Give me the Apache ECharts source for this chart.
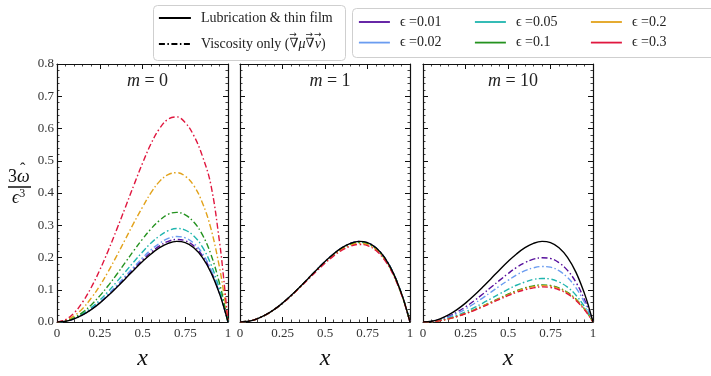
<!DOCTYPE html>
<html>
<head>
<meta charset="utf-8">
<script src="https://cdn.jsdelivr.net/npm/echarts@6.0.0/dist/echarts.min.js"></script>
<style>
  html, body { margin: 0; padding: 0; background: #fff; }
  #chart { width: 711px; height: 376px; }
</style>
</head>
<body>
<div id="chart"></div>
<script>
// Sample positions along x (shared by every curve)
const xs = [0, 0.05, 0.1, 0.15, 0.2, 0.25, 0.3, 0.35, 0.4, 0.45, 0.5,
            0.55, 0.6, 0.65, 0.7, 0.75, 0.8, 0.85, 0.9, 0.95, 0.975, 1];

// Lubrication & thin film solution (same in all panels)
const lubrication = [0, 0.0025, 0.0099, 0.0220, 0.0384, 0.0586, 0.0819, 0.1075, 0.1344, 0.1615, 0.1875,
                     0.2110, 0.2304, 0.2440, 0.2499, 0.2461, 0.2304, 0.2005, 0.1539, 0.0880, 0.0470, 0];

// Viscosity-only model, m = 0
const m0_e001 = [0, 0.0026, 0.0101, 0.0226, 0.0394, 0.0600, 0.0840, 0.1100, 0.1380, 0.1660, 0.1920,
                 0.2160, 0.2360, 0.2500, 0.2560, 0.2520, 0.2360, 0.2060, 0.1580, 0.0900, 0.0481, 0];
const m0_e002 = [0, 0.0027, 0.0105, 0.0233, 0.0407, 0.0620, 0.0868, 0.1140, 0.1425, 0.1710, 0.1990,
                 0.2240, 0.2440, 0.2590, 0.2650, 0.2610, 0.2440, 0.2130, 0.1630, 0.0940, 0.0503, 0];
const m0_e005 = [0, 0.0029, 0.0115, 0.0256, 0.0446, 0.0680, 0.0950, 0.1250, 0.1560, 0.1870, 0.2170,
                 0.2450, 0.2670, 0.2830, 0.2900, 0.2850, 0.2670, 0.2330, 0.1790, 0.1030, 0.0551, 0];
const m0_e01  = [0, 0.0035, 0.0137, 0.0300, 0.0530, 0.0810, 0.1130, 0.1480, 0.1850, 0.2220, 0.2570,
                 0.2890, 0.3150, 0.3340, 0.3400, 0.3320, 0.3100, 0.2710, 0.2100, 0.1210, 0.0647, 0];
const m0_e02  = [0, 0.0050, 0.0190, 0.0420, 0.0740, 0.1120, 0.1570, 0.2060, 0.2570, 0.3080, 0.3560,
                 0.4010, 0.4360, 0.4570, 0.4630, 0.4520, 0.4230, 0.3700, 0.2900, 0.1700, 0.0910, 0];
const m0_e03  = [0, 0.0075, 0.0280, 0.0620, 0.1070, 0.1610, 0.2220, 0.2880, 0.3560, 0.4250, 0.4920,
                 0.5530, 0.6000, 0.6290, 0.6360, 0.6180, 0.5780, 0.5150, 0.4250, 0.2500, 0.1340, 0];

// Viscosity-only model, m = 1
const m1_e001 = [0, 0.0025, 0.0099, 0.0220, 0.0384, 0.0586, 0.0819, 0.1075, 0.1344, 0.1614, 0.1873,
                 0.2107, 0.2300, 0.2436, 0.2495, 0.2457, 0.2300, 0.2002, 0.1537, 0.0879, 0.0470, 0];
const m1_e002 = [0, 0.0025, 0.0099, 0.0220, 0.0384, 0.0586, 0.0818, 0.1074, 0.1342, 0.1613, 0.1871,
                 0.2104, 0.2296, 0.2431, 0.2490, 0.2452, 0.2296, 0.1998, 0.1534, 0.0877, 0.0469, 0];
const m1_e005 = [0, 0.0025, 0.0099, 0.0220, 0.0384, 0.0585, 0.0817, 0.1072, 0.1340, 0.1609, 0.1866,
                 0.2098, 0.2289, 0.2423, 0.2481, 0.2443, 0.2287, 0.1990, 0.1528, 0.0874, 0.0467, 0];
const m1_e01  = [0, 0.0025, 0.0099, 0.0219, 0.0383, 0.0584, 0.0815, 0.1069, 0.1335, 0.1602, 0.1857,
                 0.2087, 0.2276, 0.2408, 0.2465, 0.2427, 0.2272, 0.1978, 0.1519, 0.0869, 0.0465, 0];
const m1_e02  = [0, 0.0025, 0.0099, 0.0219, 0.0382, 0.0582, 0.0812, 0.1064, 0.1327, 0.1591, 0.1842,
                 0.2068, 0.2254, 0.2383, 0.2438, 0.2399, 0.2246, 0.1955, 0.1502, 0.0860, 0.0460, 0];
const m1_e03  = [0, 0.0025, 0.0098, 0.0218, 0.0381, 0.0580, 0.0808, 0.1057, 0.1317, 0.1577, 0.1823,
                 0.2044, 0.2226, 0.2352, 0.2405, 0.2366, 0.2215, 0.1929, 0.1483, 0.0850, 0.0455, 0];

// Viscosity-only model, m = 10
const m10_e001 = [0, 0.0020, 0.0079, 0.0176, 0.0307, 0.0469, 0.0655, 0.0860, 0.1075, 0.1290, 0.1500,
                  0.1690, 0.1840, 0.1950, 0.1990, 0.1970, 0.1840, 0.1600, 0.1230, 0.0700, 0.0375, 0];
const m10_e002 = [0, 0.0017, 0.0068, 0.0152, 0.0265, 0.0404, 0.0565, 0.0742, 0.0927, 0.1114, 0.1290,
                  0.1456, 0.1590, 0.1680, 0.1720, 0.1700, 0.1590, 0.1380, 0.1060, 0.0610, 0.0326, 0];
const m10_e005 = [0, 0.0014, 0.0053, 0.0119, 0.0207, 0.0316, 0.0442, 0.0580, 0.0726, 0.0872, 0.1010,
                  0.1140, 0.1240, 0.1320, 0.1350, 0.1330, 0.1240, 0.1080, 0.0830, 0.0475, 0.0254, 0];
const m10_e01  = [0, 0.0012, 0.0046, 0.0101, 0.0177, 0.0270, 0.0377, 0.0495, 0.0618, 0.0743, 0.0863,
                  0.0970, 0.1060, 0.1122, 0.1150, 0.1130, 0.1060, 0.0920, 0.0710, 0.0405, 0.0217, 0];
const m10_e02  = [0, 0.0011, 0.0045, 0.0099, 0.0173, 0.0264, 0.0369, 0.0484, 0.0605, 0.0727, 0.0844,
                  0.0950, 0.1037, 0.1098, 0.1125, 0.1107, 0.1037, 0.0900, 0.0693, 0.0396, 0.0212, 0];
const m10_e03  = [0, 0.0011, 0.0043, 0.0096, 0.0167, 0.0255, 0.0356, 0.0468, 0.0585, 0.0703, 0.0816,
                  0.0918, 0.1000, 0.1060, 0.1090, 0.1070, 0.1000, 0.0870, 0.0670, 0.0380, 0.0203, 0];

const panelTitles = ['0', '1', '10'];
const epsLabels = ['ϵ =0.01', 'ϵ =0.02', 'ϵ =0.05', 'ϵ =0.1', 'ϵ =0.2', 'ϵ =0.3'];
const yTicks = [0, 0.1, 0.2, 0.3, 0.4, 0.5, 0.6, 0.7, 0.8];
const xTicks = [0, 0.25, 0.5, 0.75, 1];

const panelSeries = [
  [m0_e001, m0_e002, m0_e005, m0_e01, m0_e02, m0_e03],
  [m1_e001, m1_e002, m1_e005, m1_e01, m1_e02, m1_e03],
  [m10_e001, m10_e002, m10_e005, m10_e01, m10_e02, m10_e03]
];

const epsColors = ['#560f9c', '#6a9cf0', '#1fb5ae', '#24921f', '#e2a21a', '#e0173f'];
const lubName = 'Lubrication & thin film';
const viscName = 'Viscosity only';
const serifName = '"Liberation Serif"';
const serif = '"Liberation Serif", "DejaVu Serif", serif';
const dejavu = '"DejaVu Serif", serif';
const dashDot = [6, 2.5, 1.5, 2.5];

const grids = [
  { left: 57, top: 64, width: 171, height: 276 },
  { left: 240, top: 64, width: 170, height: 276 },
  { left: 423, top: 64, width: 170, height: 276 }
];

const toPairs = vals => xs.map((x, i) => [x, vals[i]]);

const xAxes = [], yAxes = [], series = [], titles = [];
grids.forEach((g, i) => {
  const tickCommon = {
    axisLine: { show: true, onZero: false, lineStyle: { color: '#111', width: 1.2 } },
    axisTick: { show: true, inside: true, length: 5, lineStyle: { color: '#111', width: 1 } },
    minorTick: { show: true, splitNumber: 5, length: 2.5, lineStyle: { color: '#111', width: 0.8 } },
    splitLine: { show: false }
  };
  xAxes.push(Object.assign({
    gridIndex: i, type: 'value', min: xTicks[0], max: xTicks[xTicks.length - 1], interval: 0.25,
    position: 'bottom',
    axisLabel: { color: '#333', fontFamily: serif, fontSize: 13, margin: 5,
                 formatter: v => String(v) },
    name: 'x', nameLocation: 'middle', nameGap: 25,
    nameTextStyle: { fontFamily: serif, fontStyle: 'italic', fontSize: 24, color: '#111' }
  }, tickCommon));
  xAxes.push(Object.assign({
    gridIndex: i, type: 'value', min: 0, max: 1, interval: 0.25, position: 'top',
    axisLabel: { show: false }
  }, tickCommon));
  yAxes.push(Object.assign({
    gridIndex: i, type: 'value', min: yTicks[0], max: yTicks[yTicks.length - 1], interval: 0.1,
    position: 'left',
    axisLabel: { show: i === 0, color: '#333', fontFamily: serif, fontSize: 13, margin: 3,
                 formatter: v => v.toFixed(1) }
  }, tickCommon));
  yAxes.push(Object.assign({
    gridIndex: i, type: 'value', min: 0, max: 0.8, interval: 0.1, position: 'right',
    axisLabel: { show: false }
  }, tickCommon));

  panelSeries[i].forEach((vals, k) => {
    series.push({
      name: epsLabels[k], type: 'line', xAxisIndex: 2 * i, yAxisIndex: 2 * i,
      data: toPairs(vals), symbol: 'none', smooth: 0.4,
      color: epsColors[k],
      lineStyle: { color: epsColors[k], width: 1.4, type: dashDot },
      z: 2 + k, silent: true, animation: false
    });
  });
  series.push({
    name: lubName, type: 'line', xAxisIndex: 2 * i, yAxisIndex: 2 * i,
    data: toPairs(lubrication), symbol: 'none', smooth: 0.4,
    color: '#000', lineStyle: { color: '#000', width: 1.4, type: 'solid' },
    z: 10, silent: true, animation: false
  });

  titles.push({
    text: '{i|m} = ' + panelTitles[i],
    left: g.left + g.width / 2, top: 67, textAlign: 'center',
    textStyle: { fontFamily: serif, fontSize: 18, fontWeight: 'normal', color: '#222',
                 rich: { i: { fontFamily: serif, fontStyle: 'italic', fontSize: 18, color: '#222' } } }
  });
});

// Legend-only entry for the dash-dot style
series.push({
  name: viscName, type: 'line', xAxisIndex: 0, yAxisIndex: 0, data: [], symbol: 'none',
  color: '#000', lineStyle: { color: '#000', width: 1.4, type: dashDot }, animation: false
});

const legendText = {
  fontFamily: serif, fontSize: 14, color: '#222', padding: [0, 0, 0, 5],
  rich: {
    n: { fontFamily: dejavu, fontSize: 13, color: '#222' },
    vi: { fontFamily: serif, fontSize: 14, fontStyle: 'italic', color: '#222' }
  }
};
const epsLegend = (left, names) => ({
  orient: 'vertical', left: left, top: 10, itemWidth: 31, itemHeight: 14, itemGap: 6.6,
  selectedMode: false, data: names, textStyle: legendText,
  itemStyle: { opacity: 0 },
  lineStyle: { type: 'solid', width: 1.8 }
});

// Vector arrows over ∇, ∇ and v in the second legend entry, placed from measured text widths
const legend1Left = 153, legend1Top = 6, legendIconW = 32, legendIconH = 14, legend1Gap = 12;
const measure = document.createElement('canvas').getContext('2d');
const widthOf = (font, s) => { measure.font = font; return measure.measureText(s).width; };
const textX0 = legend1Left + 5 + legendIconW + 5 + 5;
const row2Y = legend1Top + 5 + legendIconH + legend1Gap + legendIconH / 2;
const wPre = widthOf('14px ' + serifName, 'Viscosity only (');
const wNabla = widthOf('13px "DejaVu Serif"', '\u2207');
const wMu = widthOf('italic 14px ' + serifName, '\u03BC');
const wV = widthOf('italic 14px ' + serifName, 'v');
const arrowXs = [
  textX0 + wPre + wNabla / 2,
  textX0 + wPre + wNabla + wMu + wNabla / 2,
  textX0 + wPre + 2 * wNabla + wMu + wV / 2 + 1
];
const arrowMarks = arrowXs.map(ax => ({
  type: 'text', x: ax, y: row2Y - 9, z: 100,
  style: { text: '\u2192', align: 'center', verticalAlign: 'middle',
           font: '9px "DejaVu Sans"', fill: '#222' }
}));

const option = {
  animation: false,
  backgroundColor: '#fff',
  title: titles,
  grid: grids,
  xAxis: xAxes,
  yAxis: yAxes,
  legend: [
    {
      orient: 'vertical', left: legend1Left, top: legend1Top, itemWidth: legendIconW,
      itemHeight: legendIconH, itemGap: legend1Gap,
      selectedMode: false, data: [lubName, viscName], textStyle: legendText,
      itemStyle: { opacity: 0 },
      lineStyle: { width: 1.8 },
      formatter: name => name === viscName
        ? 'Viscosity only ({n|\u2207}{vi|\u03BC}{n|\u2207}{vi|v})'
        : name
    },
    epsLegend(353, [epsLabels[0], epsLabels[1]]),
    epsLegend(469, [epsLabels[2], epsLabels[3]]),
    epsLegend(585, [epsLabels[4], epsLabels[5]])
  ],
  graphic: [
    { type: 'rect', left: 153, top: 5, z: -1,
      shape: { width: 192, height: 55, r: 4 },
      style: { fill: '#fff', stroke: '#cfcfcf', lineWidth: 1 } },
    { type: 'rect', left: 352, top: 8, z: -1,
      shape: { width: 370, height: 49, r: 4 },
      style: { fill: '#fff', stroke: '#cfcfcf', lineWidth: 1 } },
    // y-axis label: 3ω̂ / ϵ³
    { type: 'text', left: 8, top: 168,
      style: { text: '{n|3}{w|\u03C9}', fill: '#111',
               rich: { n: { fontFamily: serif, fontSize: 18, fill: '#111' },
                       w: { fontFamily: serif, fontSize: 18, fontStyle: 'italic', fill: '#111' } } } },
    { type: 'text', left: 20, top: 162,
      style: { text: '\u02C6', fill: '#111', font: '16px ' + serif } },
    { type: 'line', shape: { x1: 8, y1: 187, x2: 31, y2: 187 },
      style: { stroke: '#111', lineWidth: 1.5 } },
    { type: 'text', left: 12, top: 188,
      style: { text: '{e|\u03F5}{s|3}', fill: '#111',
               rich: { e: { fontFamily: serif, fontSize: 18, fontStyle: 'italic', fill: '#111' },
                       s: { fontFamily: serif, fontSize: 12, fill: '#111', verticalAlign: 'top', padding: [0, 0, 8, 0] } } } }
  ].concat(arrowMarks),
  series: series
};

const chart = echarts.init(document.getElementById('chart'), null, { renderer: 'canvas' });
chart.setOption(option);
</script>
</body>
</html>
